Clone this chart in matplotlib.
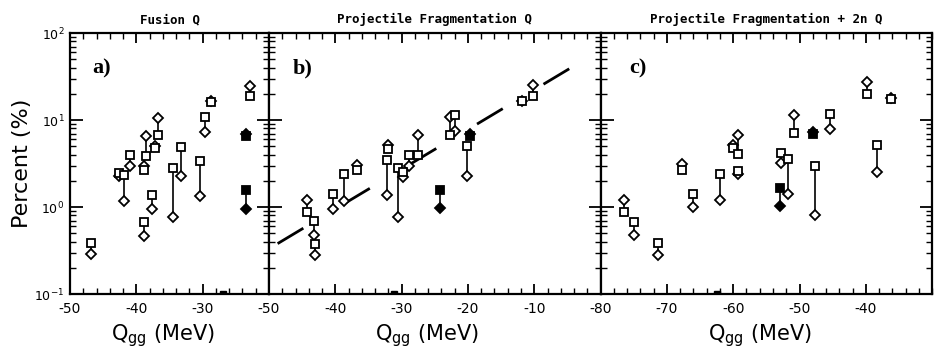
import matplotlib
matplotlib.use("Agg")
import matplotlib.pyplot as plt
from matplotlib.ticker import MultipleLocator, LogLocator, NullFormatter

plt.rcParams['axes.unicode_minus'] = False
plt.rcParams['font.family'] = 'DejaVu Sans'
plt.rcParams['lines.scale_dashes'] = False

# a) Fusion Q
a_x = [-46.9, -42.6, -41.9, -41.0, -38.6, -38.9, -38.8, -37.7, -37.2, -36.8,
       -34.5, -33.2, -30.4, -29.6, -28.8, -22.9]
a_sq = [0.39, 2.45, 2.35, 4.0, 3.9, 2.7, 0.67, 1.36, 4.8, 6.8,
        2.83, 4.9, 3.4, 10.9, 16.3, 18.9]
a_dm = [0.285, 2.3, 1.18, 3.0, 6.5, 3.0, 0.47, 0.96, 5.0, 10.6,
        0.77, 2.3, 1.34, 7.3, 16.6, 24.8]
a_fx = [-23.5, -23.4]
a_fsq = [1.57, 6.5]
a_fdm = [0.96, 7.0]
a_off = [-26.9]

# b) Projectile Fragmentation Q
b_x = [-44.2, -43.2, -43.05, -40.4, -38.7, -36.8, -32.0, -32.2, -30.5, -29.8,
       -28.9, -27.6, -22.7, -21.95, -20.1, -11.9, -10.2]
b_sq = [0.88, 0.69, 0.38, 1.40, 2.37, 2.66, 4.7, 3.47, 2.83, 2.5,
        4.0, 3.92, 6.8, 11.3, 5.0, 16.4, 18.9]
b_dm = [1.19, 0.48, 0.28, 0.96, 1.17, 3.04, 5.2, 1.37, 0.77, 2.24,
        3.0, 6.65, 10.8, 7.5, 2.3, 16.6, 25.0]
b_fx = [-24.2, -19.7]
b_fsq = [1.59, 6.5]
b_fdm = [0.98, 7.0]
b_off = [-31.2]
b_fit_x = [-48.7, -3.2]
b_fit_y = [0.38, 45.6]

# c) Projectile Fragmentation + 2n Q
c_x = [-76.5, -74.9, -71.4, -67.7, -66.0, -62.0, -60.1, -59.3, -59.3, -52.8,
       -51.8, -50.9, -47.7, -45.4, -39.8, -38.3, -36.2]
c_sq = [0.88, 0.67, 0.39, 2.7, 1.40, 2.43, 4.8, 4.1, 2.6, 4.2,
        3.6, 7.1, 3.0, 11.8, 20.1, 5.2, 17.6]
c_dm = [1.19, 0.48, 0.28, 3.15, 1.0, 1.2, 5.2, 6.8, 2.37, 3.17,
        1.43, 11.4, 0.81, 7.8, 27.3, 2.5, 17.8]
c_fx = [-53.0, -47.9]
c_fsq = [1.64, 6.9]
c_fdm = [1.03, 7.3]
c_off = [-62.5]

titles = ['Fusion Q', 'Projectile Fragmentation Q', 'Projectile Fragmentation + 2n Q']
tags = ['a)', 'b)', 'c)']
xlims = [(-50, -20), (-50, 0), (-80, -30)]


def panel(ax, x, sq, dm, fx, fsq, fdm, off):
    ax.vlines(x, dm, sq, color='k', lw=1.2, zorder=2)
    ax.vlines(fx, fdm, fsq, color='k', lw=1.2, zorder=2)
    ax.plot(x, dm, 'D', ms=4.6, mfc='white', mec='k', mew=1.3, zorder=3)
    ax.plot(x, sq, 's', ms=5.5, mfc='white', mec='k', mew=1.3, zorder=3)
    ax.plot(fx, fdm, 'D', ms=4.6, mfc='k', mec='k', mew=1.3, zorder=3)
    ax.plot(fx, fsq, 's', ms=5.5, mfc='k', mec='k', mew=1.3, zorder=3)
    ax.plot(off, [0.1] * len(off), 's', ms=5, mfc='k', mec='k', zorder=3)


fig, axes = plt.subplots(1, 3, figsize=(9.34, 3.48), dpi=100, sharey=True,
                         gridspec_kw={'width_ratios': [30, 50, 50]})
fig.subplots_adjust(left=0.075, right=0.998, bottom=0.155, top=0.905, wspace=0)

axes[0].set_yscale('log')
axes[0].set_ylim(0.1, 100)

data = [(a_x, a_sq, a_dm, a_fx, a_fsq, a_fdm, a_off),
        (b_x, b_sq, b_dm, b_fx, b_fsq, b_fdm, b_off),
        (c_x, c_sq, c_dm, c_fx, c_fsq, c_fdm, c_off)]

tag_x = [0.11, 0.07, 0.088]
label_x = [0.466, 0.476, 0.482]
for i, ax in enumerate(axes):
    panel(ax, *data[i])
    lo, hi = xlims[i]
    ax.set_xticks(range(lo, hi, 10))
    ax.set_xlim(lo, hi)
    ax.xaxis.set_minor_locator(MultipleLocator(2))
    ax.yaxis.set_major_locator(LogLocator(base=10))
    ax.yaxis.set_minor_locator(LogLocator(base=10, subs=[2, 3, 4, 5, 6, 7, 8, 9], numticks=20))
    ax.yaxis.set_minor_formatter(NullFormatter())
    ax.tick_params(which='both', direction='in', top=True, right=True)
    ax.tick_params(which='major', length=7, width=1.3, labelsize=10, pad=6)
    ax.tick_params(axis='y', which='major', length=9, labelsize=9, pad=4)
    ax.tick_params(which='minor', length=4, width=1.0)
    for s in ax.spines.values():
        s.set_linewidth(1.6)
    ax.set_title(titles[i], fontsize=9, fontweight='bold', family='DejaVu Sans Mono', pad=7)
    ax.text(tag_x[i], 0.864, tags[i], transform=ax.transAxes, fontsize=16,
            fontweight='bold', family='Liberation Serif', va='center')
    ax.set_xlabel(r'Q$_{\rm gg}$ (MeV)', fontsize=15, labelpad=4)
    ax.xaxis.label.set_x(label_x[i])

axes[1].plot(b_fit_x, b_fit_y, color='k', lw=2.0, ls=(0, (21.6, 34.2)), zorder=1)
axes[0].set_ylabel('Percent (%)', fontsize=16, labelpad=2)

fig.savefig('out.png', dpi=100)
